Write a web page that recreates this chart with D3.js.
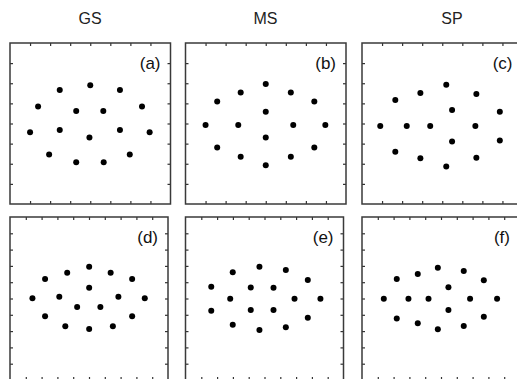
<!DOCTYPE html>
<html>
<meta charset="utf-8">
<script src="https://d3js.org/d3.v7.js"></script>
<style>
  body { margin: 0; background: #fff; }
  svg { display: block; }
</style>
<body>
<div id="my_dataviz"></div>
<script type="text/javascript">
  // column titles and panel labels
  var titles = ["GS", "MS", "SP"]
  var labels = ["(a)", "(b)", "(c)", "(d)", "(e)", "(f)"]

  // top row points, axis range [-4, 4]
  var gsTop = [[0, 1.9], [-1.52, 1.67], [1.48, 1.67], [-2.6, 0.84], [2.58, 0.84],
    [-0.7, 0.62], [0.65, 0.62], [-3.0, -0.44], [-1.52, -0.32], [1.48, -0.32],
    [2.96, -0.44], [-0.04, -0.7], [-2.05, -1.54], [1.97, -1.54], [-0.7, -1.93], [0.67, -1.93]]
  var msTop = [[0, 1.96], [-1.25, 1.54], [1.25, 1.54], [-2.42, 1.09], [2.42, 1.09],
    [0, 0.59], [-3.0, -0.07], [-1.37, -0.07], [1.37, -0.07], [2.97, -0.07],
    [0, -0.69], [-2.42, -1.19], [2.42, -1.19], [-1.25, -1.65], [1.25, -1.65], [0, -2.07]]
  var spTop = [[0.2, 1.92], [-1.09, 1.51], [1.7, 1.47], [-2.34, 1.17], [0.49, 0.67],
    [2.87, 0.58], [-3.09, -0.12], [-1.77, -0.12], [-0.6, -0.12], [1.65, -0.12],
    [2.87, -0.85], [0.49, -0.9], [-2.34, -1.4], [-1.09, -1.73], [1.7, -1.7], [0.2, -2.14]]

  // bottom row points, axis range [-5, 5]
  var gsBottom = [[0.01, 1.95], [-1.38, 1.58], [1.37, 1.58], [-2.78, 1.19], [2.73, 1.19],
    [0.01, 0.66], [-3.58, 0.01], [-1.88, 0.11], [1.86, 0.11], [3.53, 0.01],
    [-0.75, -0.52], [0.72, -0.52], [-2.78, -1.09], [2.73, -1.09], [-1.5, -1.7], [0.01, -1.87], [1.51, -1.7]]
  var msBottom = [[-0.32, 1.95], [-2.01, 1.61], [1.35, 1.75], [2.74, 1.14], [-3.37, 0.72],
    [-0.87, 0.68], [0.57, 0.66], [-2.17, -0.01], [1.9, -0.01], [3.54, -0.01],
    [-3.37, -0.75], [-0.87, -0.71], [0.57, -0.71], [2.74, -1.18], [-2.01, -1.61], [1.35, -1.77], [-0.32, -1.93]]
  var spBottom = [[-0.2, 1.89], [1.44, 1.69], [-1.47, 1.5], [-2.8, 1.2], [2.71, 1.12],
    [0.47, 0.69], [-3.62, -0.01], [-2.06, -0.01], [-0.79, -0.01], [1.84, -0.01],
    [3.55, -0.01], [0.47, -0.71], [-2.8, -1.22], [2.71, -1.12], [-1.47, -1.52], [1.44, -1.69], [-0.2, -1.89]]

  var topTicks = [-3, -2, -1, 0, 1, 2, 3]
  var bottomTicks = [-4, -3, -2, -1, 0, 1, 2, 3, 4]

  var width = 517, height = 379
  var svg = d3.select("#my_dataviz")
    .append("svg")
      .attr("width", width)
      .attr("height", height)

  var colLeft = [10, 185.5, 362]
  var rows = [
    {top: 43, bottom: 204, w: 160.5, lim: 4, ticks: topTicks, sets: [gsTop, msTop, spTop]},
    {top: 217, bottom: 380, w: 158, lim: 5, ticks: bottomTicks, sets: [gsBottom, msBottom, spBottom]}
  ]

  // column titles
  svg.selectAll(".title")
    .data(titles)
    .enter()
    .append("text")
      .attr("x", (d, i) => colLeft[i] + 80 + (i === 2 ? 10 : 0))
      .attr("y", 24)
      .attr("text-anchor", "middle")
      .style("font-family", "Liberation Sans, Arial, sans-serif")
      .style("font-size", "16px")
      .style("fill", "#222")
      .text(d => d)

  rows.forEach(function(row, r) {
    row.sets.forEach(function(pts, c) {
      var x0 = colLeft[c]
      var x = d3.scaleLinear().domain([-row.lim, row.lim]).range([x0, x0 + row.w])
      var y = d3.scaleLinear().domain([-row.lim, row.lim]).range([row.bottom, row.top])
      var g = svg.append("g")

      // inward ticks on all four sides
      var tk = function(axis) { return axis.tickValues(row.ticks).tickSizeInner(-3).tickSizeOuter(0).tickFormat("") }
      g.append("g").attr("transform", "translate(0," + row.top + ")").call(tk(d3.axisTop(x)))
      g.append("g").attr("transform", "translate(0," + row.bottom + ")").call(tk(d3.axisBottom(x)))
      g.append("g").attr("transform", "translate(" + x0 + ",0)").call(tk(d3.axisLeft(y)))
      g.append("g").attr("transform", "translate(" + (x0 + row.w) + ",0)").call(tk(d3.axisRight(y)))
      g.selectAll(".domain").remove()
      g.selectAll(".tick line").style("stroke", "#333").style("stroke-width", 1.2)

      // frame
      g.append("rect")
        .attr("x", x0)
        .attr("y", row.top)
        .attr("width", row.w)
        .attr("height", row.bottom - row.top)
        .style("fill", "none")
        .style("stroke", "#3a3a3a")
        .style("stroke-width", 1.5)

      g.selectAll("circle")
        .data(pts)
        .enter()
        .append("circle")
          .attr("cx", d => x(d[0]))
          .attr("cy", d => y(d[1]))
          .attr("r", 3)
          .style("fill", "#000")

      g.append("text")
        .attr("x", x0 + row.w - 10)
        .attr("y", row.top + 26)
        .attr("text-anchor", "end")
        .style("font-family", "Liberation Sans, Arial, sans-serif")
        .style("font-size", "17px")
        .style("fill", "#111")
        .text(labels[r * 3 + c])
    })
  })
</script>
</body>
</html>
